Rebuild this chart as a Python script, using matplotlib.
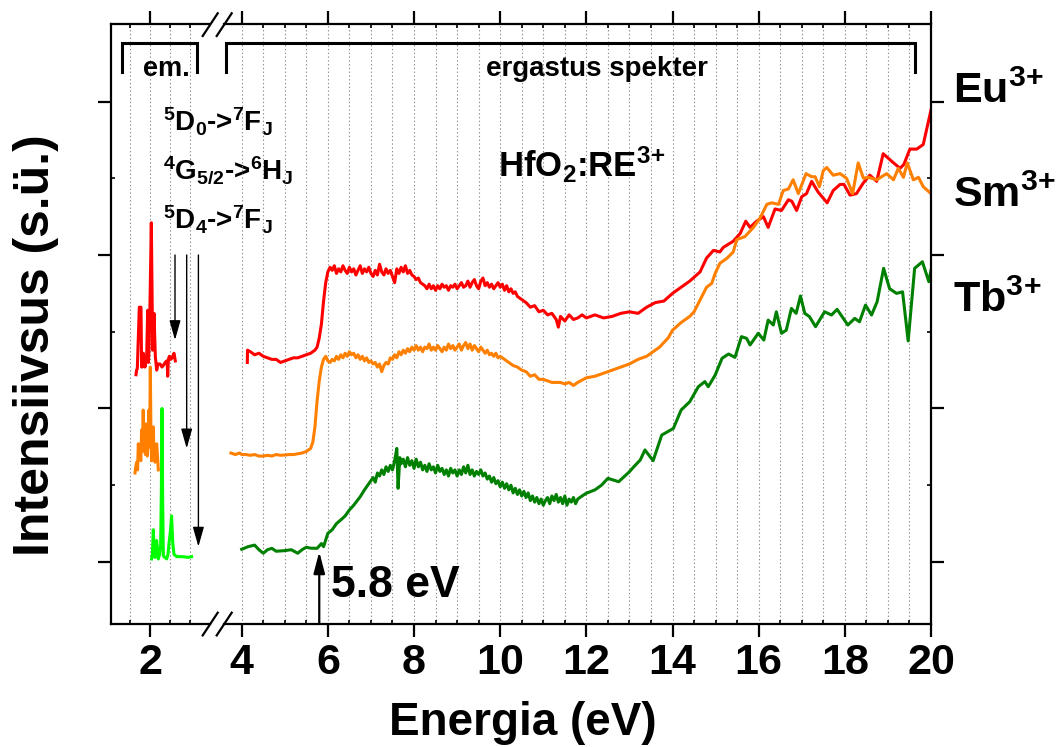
#!/usr/bin/env python3
"""Emission and excitation spectra of HfO2:RE3+ (RE = Eu, Sm, Tb) on a broken energy axis."""

import matplotlib

matplotlib.use("Agg")
import matplotlib.pyplot as plt
from matplotlib.lines import Line2D
from matplotlib.ticker import FixedLocator

plt.rcParams["font.family"] = ["Liberation Sans", "DejaVu Sans"]
plt.rcParams["font.weight"] = "bold"
plt.rcParams["mathtext.fontset"] = "custom"
plt.rcParams["mathtext.rm"] = "Liberation Sans:bold"
plt.rcParams["mathtext.it"] = "Liberation Sans:bold"
plt.rcParams["mathtext.bf"] = "Liberation Sans:bold"

# --- emission spectra (left part of the energy axis), eV / a.u. ---
eu_em_e = [1.65, 1.665, 1.683, 1.733, 1.775, 1.79, 1.808, 1.833, 1.875, 1.917, 1.942, 1.96, 1.975,
           2.0, 2.033, 2.067, 2.1, 2.133, 2.167, 2.2, 2.25, 2.3, 2.333, 2.38, 2.417, 2.43, 2.442,
           2.46, 2.483, 2.52, 2.55, 2.6, 2.633]
eu_em_i = [1.22, 1.25, 1.26, 1.66, 1.66, 1.27, 1.27, 1.36, 1.27, 1.34, 1.64, 1.30, 1.38,
           1.69, 2.21, 1.38, 1.62, 1.34, 1.25, 1.29, 1.29, 1.27, 1.28, 1.30, 1.31, 1.30, 1.21,
           1.32, 1.34, 1.32, 1.33, 1.36, 1.31]

sm_em_e = [1.625, 1.645, 1.667, 1.69, 1.708, 1.73, 1.75, 1.77, 1.79, 1.81, 1.83, 1.85, 1.867,
           1.885, 1.9, 1.917, 1.933, 1.955, 1.975, 1.99, 2.008, 2.025, 2.042, 2.06, 2.083, 2.1,
           2.125, 2.145, 2.167, 2.19, 2.208]
sm_em_i = [0.58, 0.62, 0.65, 0.60, 0.77, 0.68, 0.71, 0.66, 0.86, 0.72, 0.99, 0.74, 0.77,
           0.70, 0.90, 0.72, 0.69, 0.80, 0.99, 0.75, 1.27, 0.80, 0.66, 0.74, 0.88, 0.70,
           0.65, 0.72, 0.77, 0.68, 0.60]

tb_em_e = [2.04, 2.06, 2.083, 2.105, 2.125, 2.145, 2.167, 2.19, 2.208, 2.24, 2.267, 2.283, 2.30,
           2.317, 2.333, 2.37, 2.417, 2.45, 2.475, 2.51, 2.54, 2.57, 2.6, 2.667, 2.8, 2.95, 3.04]
tb_em_i = [0.02, 0.05, 0.21, 0.06, 0.03, 0.08, 0.14, 0.05, 0.02, 0.05, 0.12, 0.45, 1.00,
           0.40, 0.04, 0.03, 0.02, 0.05, 0.12, 0.20, 0.30, 0.12, 0.05, 0.035, 0.035, 0.03, 0.035]

# --- excitation spectra (right part of the energy axis), eV / a.u. ---
eu_ex_e = [4.13, 4.135, 4.2, 4.3, 4.4, 4.5, 4.6, 4.7, 4.8, 4.9, 5.0, 5.1, 5.2, 5.3, 5.4, 5.5, 5.6,
           5.7, 5.75, 5.8, 5.85, 5.9, 5.95,
           6.00, 6.05, 6.10, 6.15, 6.20, 6.25, 6.30, 6.35, 6.40, 6.45, 6.50, 6.55, 6.60, 6.65,
           6.70, 6.75, 6.80, 6.85, 6.90, 6.95, 7.00, 7.05, 7.10, 7.15, 7.20, 7.25, 7.30, 7.35,
           7.40, 7.45, 7.50, 7.55, 7.60, 7.65, 7.70, 7.75, 7.80, 7.85, 7.90, 7.95, 8.00, 8.05,
           8.10, 8.15, 8.20, 8.25, 8.30, 8.35, 8.40, 8.45, 8.50, 8.55, 8.60, 8.65, 8.70, 8.75,
           8.80, 8.85, 8.90, 8.95, 9.00, 9.05, 9.10, 9.15, 9.20, 9.25, 9.30, 9.35, 9.40, 9.45,
           9.50, 9.55, 9.60, 9.65, 9.70, 9.75, 9.80, 9.85, 9.90, 9.95, 10.00, 10.05, 10.10,
           10.15, 10.20, 10.25, 10.30, 10.35, 10.40, 10.45, 10.50,
           10.6, 10.7, 10.8, 10.9, 11.0, 11.1, 11.2, 11.3, 11.35, 11.4, 11.5, 11.6, 11.7, 11.8,
           11.9, 12.0, 12.2, 12.4, 12.6, 12.8, 13.0, 13.2, 13.4, 13.6, 13.8, 14.0, 14.2, 14.4,
           14.64, 14.79, 14.95, 15.1, 15.18, 15.41, 15.57, 15.7, 15.8, 15.95, 16.11, 16.22,
           16.38, 16.53, 16.69, 16.77, 16.88, 17.0, 17.11, 17.23, 17.38, 17.59, 17.73, 17.89,
           17.98, 18.12, 18.27, 18.43, 18.58, 18.74, 18.89, 19.09, 19.28, 19.37, 19.51, 19.67,
           19.82, 20.0]
eu_ex_i = [1.30, 1.38, 1.37, 1.35, 1.36, 1.34, 1.33, 1.32, 1.32, 1.30, 1.31, 1.32, 1.33, 1.33,
           1.34, 1.35, 1.36, 1.38, 1.40, 1.46, 1.55, 1.70, 1.82,
           1.89, 1.92, 1.90, 1.93, 1.88, 1.91, 1.89, 1.93, 1.90, 1.88, 1.92, 1.89, 1.91, 1.87,
           1.90, 1.93, 1.88, 1.91, 1.89, 1.92, 1.88, 1.86, 1.90, 1.87, 1.94, 1.89, 1.87, 1.91,
           1.88, 1.90, 1.86, 1.82, 1.91, 1.88, 1.92, 1.89, 1.93, 1.88, 1.90, 1.87, 1.86, 1.84,
           1.85, 1.82, 1.81, 1.80, 1.78, 1.81, 1.78, 1.80, 1.77, 1.80, 1.78, 1.81, 1.79, 1.80,
           1.77, 1.80, 1.79, 1.81, 1.78, 1.80, 1.82, 1.79, 1.80, 1.83, 1.79, 1.82, 1.84, 1.80,
           1.78, 1.83, 1.85, 1.80, 1.82, 1.79, 1.81, 1.78, 1.80, 1.82, 1.79, 1.81, 1.77,
           1.80, 1.76, 1.78, 1.75, 1.76, 1.73, 1.72, 1.71,
           1.69, 1.66, 1.67, 1.63, 1.64, 1.61, 1.62, 1.58, 1.53, 1.60, 1.57, 1.61, 1.58, 1.59,
           1.61, 1.59, 1.61, 1.59, 1.60, 1.62, 1.63, 1.62, 1.66, 1.69, 1.70, 1.75, 1.79, 1.83,
           1.89, 1.98, 2.03, 2.02, 2.05, 2.09, 2.14, 2.22, 2.18, 2.22, 2.25, 2.18,
           2.30, 2.29, 2.36, 2.35, 2.29, 2.38, 2.40, 2.48, 2.41, 2.34, 2.42, 2.46,
           2.46, 2.39, 2.40, 2.47, 2.52, 2.48, 2.66, 2.61, 2.565, 2.59, 2.69, 2.69,
           2.72, 2.945]

sm_ex_e = [3.75, 3.85, 3.95, 4.0, 4.1, 4.2, 4.3, 4.4, 4.5, 4.6, 4.7, 4.8, 4.9, 5.0, 5.1, 5.2, 5.3,
           5.4, 5.5, 5.6, 5.65, 5.7, 5.75, 5.8, 5.85, 5.9, 5.95,
           6.00, 6.05, 6.10, 6.15, 6.20, 6.25, 6.30, 6.35, 6.40, 6.45, 6.50, 6.55, 6.60, 6.65,
           6.70, 6.75, 6.80, 6.85, 6.90, 6.95, 7.00, 7.05, 7.10, 7.15, 7.20, 7.25, 7.30, 7.35,
           7.40, 7.45, 7.50, 7.55, 7.60, 7.65, 7.70, 7.75, 7.80, 7.85, 7.90, 7.95, 8.00, 8.05,
           8.10, 8.15, 8.20, 8.25, 8.30, 8.35, 8.40, 8.45, 8.50, 8.55, 8.60, 8.65, 8.70, 8.75,
           8.80, 8.85, 8.90, 8.95, 9.00, 9.05, 9.10, 9.15, 9.20, 9.25, 9.30, 9.35, 9.40, 9.45,
           9.50, 9.55, 9.60, 9.65, 9.70, 9.75, 9.80, 9.85, 9.90, 9.95, 10.00, 10.1, 10.2, 10.3,
           10.4, 10.5, 10.6, 10.7, 10.8, 10.9, 11.0, 11.2, 11.4, 11.5, 11.6, 11.7, 11.8, 12.0,
           12.2, 12.4, 12.5, 12.7, 12.9, 13.0, 13.2, 13.4, 13.5, 13.7, 13.9, 14.0, 14.2, 14.4,
           14.5, 14.64, 14.79, 14.91, 14.99, 15.1, 15.26, 15.41, 15.49, 15.68, 15.88, 16.03,
           16.19, 16.3, 16.46, 16.57, 16.69, 16.8, 16.92, 17.1, 17.23, 17.31, 17.41, 17.5,
           17.58, 17.73, 17.89, 18.04, 18.18, 18.31, 18.43, 18.55, 18.74, 18.97, 19.13, 19.24,
           19.36, 19.45, 19.59, 19.71, 19.82, 20.0]
sm_ex_i = [0.71, 0.70, 0.71, 0.70, 0.70, 0.695, 0.70, 0.69, 0.69, 0.695, 0.69, 0.70, 0.695,
           0.697, 0.70, 0.70, 0.705, 0.71, 0.72, 0.74, 0.78, 0.88, 1.05, 1.18, 1.27, 1.32, 1.34,
           1.31, 1.30, 1.32, 1.31, 1.34, 1.32, 1.35, 1.33, 1.36, 1.34, 1.37, 1.35, 1.36, 1.33,
           1.35, 1.32, 1.34, 1.31, 1.33, 1.30, 1.31, 1.29, 1.30, 1.27, 1.29, 1.24, 1.28, 1.30,
           1.29, 1.33, 1.32, 1.35, 1.33, 1.37, 1.35, 1.38, 1.36, 1.39, 1.37, 1.40, 1.38, 1.41,
           1.38, 1.40, 1.37, 1.40, 1.39, 1.42, 1.38, 1.40, 1.38, 1.41, 1.39, 1.37, 1.40, 1.38,
           1.42, 1.39, 1.41, 1.38, 1.40, 1.42, 1.38, 1.41, 1.43, 1.39, 1.42, 1.38, 1.41, 1.39,
           1.37, 1.40, 1.38, 1.36, 1.38, 1.35, 1.36, 1.34, 1.36, 1.33, 1.34, 1.32, 1.30, 1.28,
           1.27, 1.25, 1.24, 1.21, 1.22, 1.19, 1.19, 1.17, 1.17, 1.16, 1.17, 1.15, 1.17, 1.20,
           1.21, 1.23, 1.24, 1.26, 1.28, 1.29, 1.32, 1.34, 1.36, 1.40, 1.46, 1.51, 1.56, 1.60,
           1.63, 1.707, 1.79, 1.815, 1.88, 1.946, 1.978, 2.02, 2.10, 2.12, 2.18, 2.24,
           2.33, 2.34, 2.33, 2.42, 2.43, 2.49, 2.40, 2.53, 2.51, 2.51, 2.445, 2.55,
           2.57, 2.52, 2.53, 2.50, 2.40, 2.60, 2.50, 2.506, 2.49, 2.53, 2.49, 2.565,
           2.506, 2.60, 2.49, 2.506, 2.445, 2.40]

tb_ex_e = [4.0, 4.15, 4.3, 4.4, 4.5, 4.6, 4.7, 4.8, 5.0, 5.15, 5.3, 5.4, 5.5, 5.6, 5.75, 5.85,
           5.9, 6.0, 6.1, 6.2, 6.3, 6.4, 6.5, 6.6, 6.75, 6.85,
           7.00, 7.05, 7.10, 7.15, 7.20, 7.25, 7.30, 7.35, 7.40, 7.45, 7.50, 7.55, 7.60, 7.63,
           7.67, 7.70, 7.75, 7.80, 7.85, 7.90, 7.95, 8.00, 8.05, 8.10, 8.15, 8.20, 8.25, 8.30,
           8.35, 8.40, 8.45, 8.50, 8.55, 8.60, 8.65, 8.70, 8.75, 8.80, 8.85, 8.90, 8.95, 9.00,
           9.05, 9.10, 9.15, 9.20, 9.25, 9.30, 9.35, 9.40, 9.45, 9.50, 9.55, 9.60, 9.65, 9.70,
           9.75, 9.80, 9.85, 9.90, 9.95, 10.00, 10.05, 10.10, 10.15, 10.20, 10.25, 10.30, 10.35,
           10.40, 10.45, 10.50, 10.55, 10.60, 10.65, 10.70, 10.75, 10.80, 10.85, 10.90, 10.95,
           11.00, 11.05, 11.10, 11.15, 11.20, 11.25, 11.30, 11.35, 11.40, 11.45, 11.50, 11.55,
           11.60, 11.65, 11.70, 11.75, 11.80, 11.90, 12.0, 12.2, 12.35, 12.5, 12.75,
           13.0, 13.1, 13.25, 13.36, 13.55, 13.75, 14.02, 14.2, 14.4, 14.6, 14.75, 14.83, 14.99,
           15.15, 15.3, 15.45, 15.6, 15.72, 15.8, 15.99, 16.12, 16.22, 16.34, 16.41, 16.53,
           16.64, 16.76, 16.87, 16.97, 17.07, 17.18, 17.32, 17.53, 17.69, 17.82, 18.07, 18.23,
           18.34, 18.48, 18.62, 18.75, 18.9, 19.04, 19.2, 19.34, 19.47, 19.62, 19.8, 19.95, 20.0]
tb_ex_i = [0.083, 0.10, 0.11, 0.08, 0.057, 0.08, 0.089, 0.07, 0.074, 0.08, 0.057, 0.08, 0.096,
           0.09, 0.089, 0.12, 0.10, 0.187, 0.21, 0.25, 0.274, 0.30, 0.339, 0.37, 0.425, 0.47,
           0.53, 0.55, 0.52, 0.58, 0.56, 0.60, 0.57, 0.62, 0.59, 0.63, 0.60, 0.66, 0.74, 0.48,
           0.68, 0.64, 0.67, 0.62, 0.68, 0.63, 0.66, 0.61, 0.67, 0.62, 0.65, 0.60, 0.63, 0.59,
           0.64, 0.60, 0.62, 0.58, 0.63, 0.59, 0.61, 0.57, 0.60, 0.56, 0.61, 0.58, 0.60, 0.56,
           0.60, 0.57, 0.62, 0.58, 0.63, 0.57, 0.60, 0.56, 0.59, 0.57, 0.60, 0.56, 0.58, 0.54,
           0.56, 0.52, 0.55, 0.51, 0.53, 0.49, 0.52, 0.48, 0.51, 0.47, 0.50, 0.45, 0.48,
           0.44, 0.47, 0.43, 0.46, 0.42, 0.45, 0.40, 0.43, 0.39, 0.42, 0.38, 0.41,
           0.37, 0.40, 0.42, 0.38, 0.43, 0.40, 0.44, 0.39, 0.42, 0.38, 0.43, 0.37,
           0.41, 0.39, 0.42, 0.38, 0.41, 0.43, 0.448, 0.47, 0.50, 0.545, 0.523,
           0.588, 0.62, 0.664, 0.73, 0.66, 0.827, 0.87, 0.99, 1.044, 1.142, 1.175, 1.142, 1.218,
           1.327, 1.355, 1.333, 1.468, 1.457, 1.414, 1.49, 1.446, 1.576, 1.544, 1.63, 1.49,
           1.51, 1.652, 1.62, 1.733, 1.62, 1.598, 1.533, 1.63, 1.609, 1.646, 1.544, 1.587,
           1.565, 1.674, 1.609, 1.696, 1.913, 1.78, 1.75, 1.76, 1.44, 1.913, 1.956, 1.826, 1.90]

# transition markers on the emission side: energy, arrow tip
arrow_e = [2.625, 2.917, 3.21]
arrow_tip = [1.446, 0.74, 0.10]
arrow_top = 2.0
transitions = [r"${}^{5}$D$_{0}$->${}^{7}$F$_{J}$",
               r"${}^{4}$G$_{5/2}$->${}^{6}$H$_{J}$",
               r"${}^{5}$D$_{4}$->${}^{7}$F$_{J}$"]
transition_y = [2.803, 2.489, 2.163]

edge_e = 5.8
ions = [r"Eu$^{3\!+}$", r"Sm$^{3\!+}$", r"Tb$^{3\!+}$"]

RED = "#ff0000"
ORANGE = "#ff8000"
GREEN = "#008000"
LIME = "#00ff00"

W, H = 1061, 747
Y_LIM = (-0.404, 3.505)


def px_rect(x0, x1, y_top=24, y_bottom=624):
    return [x0 / W, 1 - y_bottom / H, (x1 - x0) / W, (y_bottom - y_top) / H]


def style_axis(ax, majors, minors, side):
    ax.set_ylim(*Y_LIM)
    ax.patch.set_visible(False)
    ax.xaxis.set_major_locator(FixedLocator(majors))
    ax.xaxis.set_minor_locator(FixedLocator(minors))
    ax.yaxis.set_major_locator(FixedLocator([0, 1, 2, 3]))
    ax.yaxis.set_minor_locator(FixedLocator([0.5, 1.5, 2.5]))
    ax.tick_params(which="major", direction="out", length=9.5, width=1.6,
                   top=True, bottom=True, left=(side == "left"), right=(side == "right"),
                   labelleft=False, labelright=False, labeltop=False, labelsize=31, pad=4)
    ax.tick_params(which="minor", direction="in", length=3, width=1.2,
                   top=True, bottom=True, left=(side == "left"), right=(side == "right"))
    for s in ax.spines.values():
        s.set_linewidth(1.6)
    ax.spines["right" if side == "left" else "left"].set_visible(False)
    lo, hi = ax.get_xlim()
    for x in sorted(set(majors + minors)):
        if lo < x < hi:
            ax.axvline(x, color="0.55", lw=0.8, ls=(0, (1.2, 2.2)), zorder=0)


fig = plt.figure(figsize=(W / 100, H / 100), dpi=100)
ax_l = fig.add_axes(px_rect(110.7, 210))
ax_r = fig.add_axes(px_rect(224, 931))
ax_l.set_xlim(1.0175, 3.5)
ax_r.set_xlim(3.589, 20.0)
style_axis(ax_l, [2], [1.5, 2.5, 3.0], "left")
style_axis(ax_r, list(range(4, 21, 2)), [x / 2 for x in range(9, 40) if x % 4], "right")

# emission
ax_l.plot(eu_em_e, eu_em_i, color=RED, lw=2.2)
ax_l.plot(sm_em_e, sm_em_i, color=ORANGE, lw=2.2)
ax_l.plot(tb_em_e, tb_em_i, color=LIME, lw=2.2)

# excitation
ax_r.plot(eu_ex_e, eu_ex_i, color=RED, lw=2.2)
ax_r.plot(sm_ex_e, sm_ex_i, color=ORANGE, lw=2.2)
ax_r.plot(tb_ex_e, tb_ex_i, color=GREEN, lw=2.2)

for x, tip in zip(arrow_e, arrow_tip):
    ax_l.annotate("", xy=(x, tip), xytext=(x, arrow_top), annotation_clip=False,
                  arrowprops=dict(arrowstyle="-|>,head_length=0.6,head_width=0.17",
                                  color="k", lw=1.0, mutation_scale=20, shrinkA=0, shrinkB=0))
for label, y in zip(transitions, transition_y):
    ax_l.text(2.32, y, label, fontsize=20, va="baseline", ha="left", zorder=5)

ax_r.annotate("", xy=(edge_e, 0.067), xytext=(edge_e, Y_LIM[0]), annotation_clip=False,
              arrowprops=dict(arrowstyle="-|>,head_length=0.65,head_width=0.17",
                              color="k", lw=1.6, mutation_scale=20, shrinkA=0, shrinkB=0))
ax_r.text(6.07, -0.226, f"{edge_e} eV", fontsize=32, va="baseline", ha="left")

# brackets over the two parts of the spectrum
ax_l.plot([1.31, 1.31, 3.17, 3.17], [3.194, 3.383, 3.383, 3.194], color="k", lw=2.2,
          clip_on=False, solid_joinstyle="miter")
ax_r.plot([3.64, 3.64, 19.63, 19.63], [3.194, 3.383, 3.383, 3.194], color="k", lw=2.2,
          clip_on=False, solid_joinstyle="miter")
ax_l.text(1.83, 3.166, "em.", fontsize=19.5, va="baseline", ha="left")
ax_r.text(12.24, 3.166, "ergastus spekter", fontsize=20, va="baseline", ha="center")
ax_r.text(9.96, 2.51, r"HfO$_2$:RE$^{3\!+}$", fontsize=25, va="baseline", ha="left")

# axis break marks
for yb in (13.3, 612.7):
    for xb in (202.7, 216.7):
        fig.add_artist(Line2D([xb / W, (xb + 15) / W], [1 - (yb + 22.7) / H, 1 - yb / H],
                              color="k", lw=1.6, transform=fig.transFigure))

for label, base in zip(ions, [103.3, 206.7, 311.7]):
    fig.text(953 / W, 1 - base / H, label, fontsize=31, va="baseline", ha="left")

fig.text(36 / W, 0.538, "Intensiivsus (s.ü.)", rotation=90, fontsize=36,
         ha="center", va="center")
fig.text(522.5 / W, 1 - 735 / H, "Energia (eV)", fontsize=33, ha="center", va="baseline")

fig.savefig("out.png", dpi=100)
